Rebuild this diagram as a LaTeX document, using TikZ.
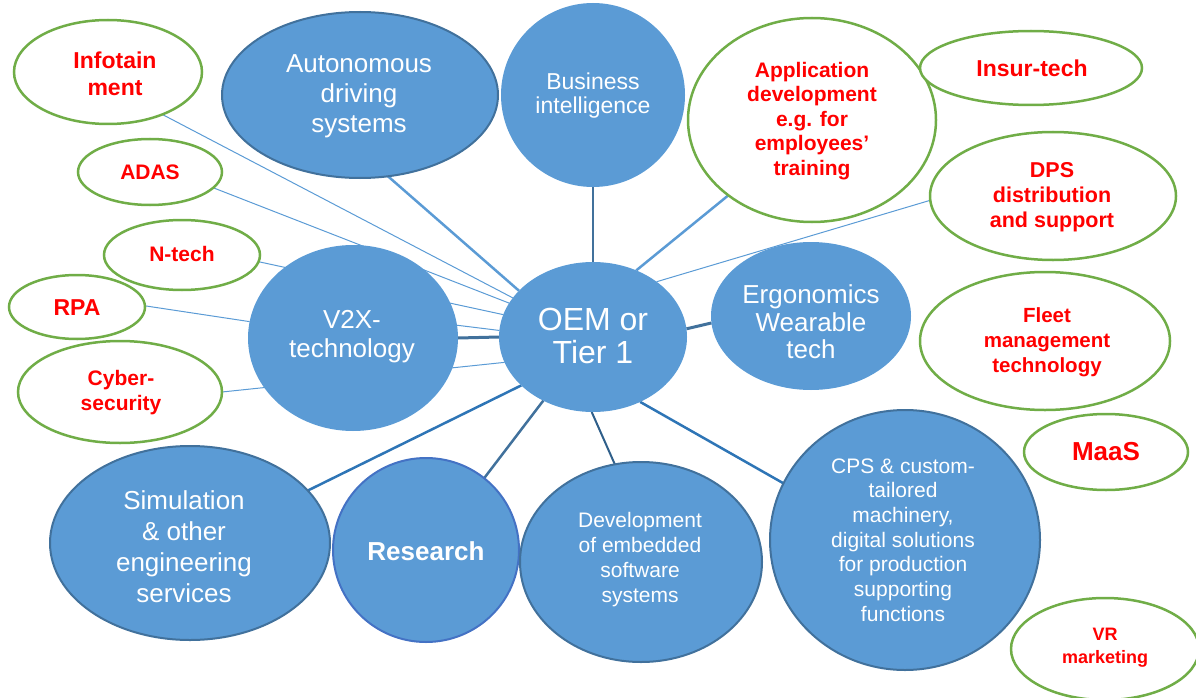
\documentclass[tikz,border=0pt]{standalone}
\usepackage{fontspec}
\setmainfont{Liberation Sans}
\usetikzlibrary{shapes.geometric,backgrounds}
\definecolor{bfill}{HTML}{5B9BD5}
\definecolor{bdark}{HTML}{41719C}
\definecolor{gline}{HTML}{70AD47}
\definecolor{rtext}{HTML}{FF0000}
\definecolor{lblue}{HTML}{5B9BD5}
\definecolor{mblue}{HTML}{2E75B6}
\definecolor{rblue}{HTML}{4472C4}
\definecolor{dblue}{HTML}{2F5F8A}
\begin{document}
\begin{tikzpicture}[x=1pt,y=-1pt,
  ell/.style={ellipse, inner sep=0pt, outer sep=0pt},
  sz/.style 2 args={minimum width=#1pt, minimum height=#2pt},
  bnode/.style={ell, fill=bfill},
  bbord/.style={ell, fill=bfill, draw=bdark, line width=2pt},
  gnode/.style={ell, fill=white, draw=gline, line width=2.5pt},
  wtxt/.style={text=white, align=center, inner sep=0pt},
  rtxt/.style={text=rtext, align=center, inner sep=0pt},
  fs/.style 2 args={font=\fontsize{#1}{#2}\selectfont},
  fb/.style 2 args={font=\fontsize{#1}{#2}\selectfont\bfseries},
  thinc/.style={draw=lblue, line width=1pt},
  medc/.style={line width=2.5pt},
  heavyc/.style={draw=bdark, line width=3pt}
]
\useasboundingbox (0,0) rectangle (1196,698);
\clip (0,0) rectangle (1196,698);

% green (red-text) ellipses
\node[gnode, sz={188}{104}] (info) at (108,72) {};
\node[gnode, sz={144}{66}] (adas) at (150,172) {};
\node[gnode, sz={156}{70}] (ntech) at (182,255) {};
\node[gnode, sz={136}{64}] (rpa) at (77,307) {};
\node[gnode, sz={204}{102}] (cyber) at (120,392) {};
\node[gnode, sz={248}{204}] (app) at (812,120) {};
\node[gnode, sz={222}{74}] (insur) at (1031,68) {};
\node[gnode, sz={246}{128}] (dps) at (1053,196) {};
\node[gnode, sz={250}{138}] (fleet) at (1045,341) {};
\node[gnode, sz={164}{76}] (maas) at (1106,452) {};
\node[gnode, sz={188}{102}] (vr) at (1105,649) {};

% blue ellipses
\node[bbord, sz={276}{166}] (auto) at (360,95) {};
\node[bnode, sz={184}{184}] (bi) at (593,95) {};
\node[bnode, sz={200}{148}] (ergo) at (811,316) {};
\node[bnode, sz={188}{150}] (oem) at (593,337) {};
\node[bnode, sz={210}{186}] (v2x) at (353,338) {};
\node[bbord, sz={280}{194}] (sim) at (190,543) {};
\node[ell, fill=bfill, draw=rblue, line width=2pt, sz={186}{184}] (res) at (426,550) {};
\node[bbord, sz={242}{200}] (dev) at (641,562) {};
\node[bbord, sz={270}{260}] (cps) at (905,540) {};

% texts
\node[rtxt, fb={23}{27}] (infoT) at (115,74) {Infotain\\ment};
\node[rtxt, fb={21}{25}] (adasT) at (150,172) {ADAS};
\node[rtxt, fb={21}{25}] (ntechT) at (182,254) {N-tech};
\node[rtxt, fb={23}{27}] (rpaT) at (77,308) {RPA};
\node[rtxt, fb={21}{25}] (cyberT) at (121,393) {Cyber-\\security};
\node[rtxt, fb={23}{27}] (insurT) at (1032,68) {Insur-tech};
\node[rtxt, fb={21}{24.5}] (appT) at (812,121) {Application\\development\\e.g. for\\employees’\\training};
\node[rtxt, fb={21.5}{25}] (dpsT) at (1052,197) {DPS\\distribution\\and support};
\node[rtxt, fb={20.5}{25}] (fleetT) at (1047,342) {Fleet\\management\\technology};
\node[rtxt, fb={26}{30}] (maasT) at (1106,452) {MaaS};
\node[rtxt, fb={18}{23}] (vrT) at (1105,648) {VR\\marketing};

\node[wtxt, fs={26}{30}] (autoT) at (359,96) {Autonomous\\driving\\systems};
\node[wtxt, fs={23}{24}] (biT) at (593,96) {Business\\intelligence};
\node[wtxt, fs={26}{27.5}] (ergoT) at (811,322) {Ergonomics\\Wearable\\tech};
\node[wtxt, fs={32}{33}] (oemT) at (593,336) {OEM or\\Tier 1};
\node[wtxt, fs={26}{29}] (v2xT) at (352,337) {V2X-\\technology};
\node[wtxt, fs={26}{31}] (simT) at (184,547) {Simulation\\\& other\\engineering\\services};
\node[wtxt, fb={26}{30}] (resT) at (426,551) {Research};
\node[wtxt, fs={21}{25}] (devT) at (640,560) {Development\\of embedded\\software\\systems};
\node[wtxt, fs={21}{24.7}] (cpsT) at (903,540) {CPS \& custom-\\tailored\\machinery,\\digital solutions\\for production\\supporting\\functions};

% connectors
\begin{scope}[on background layer]
\draw[thinc] (info.322.5) -- (oem.154);
\draw[thinc] (adas.346) -- (oem.158);
\draw[thinc] (ntech.355.5) -- (oem.166);
\draw[thinc] (rpa.1) -- (v2x.171);
\draw[thinc] (v2x.7) -- (oem.176);
\draw[heavyc] (v2x.east) -- (oem.west);
\draw[thinc] (cyber.0) -- (oem.196);
\draw[medc, draw=lblue] (auto.289) -- (oem.148.5);
\draw[medc, draw=bdark] (bi.south) -- (oem.north);
\draw[medc, draw=lblue] (app.222) -- (oem.57.5);
\draw[thinc] (dps.182.3) -- (oem.41);
\draw[heavyc] (ergo.184.5) -- (oem.5.4);
\draw[medc, draw=mblue] (sim.24) -- (oem.214.6);
\draw[medc, draw=bdark] (res.51.5) -- (oem.232.7);
\draw[line width=2pt, draw=dblue] (dev.105) -- (oem.269.3);
\draw[medc, draw=mblue] (cps.155.5) -- (oem.306);
\end{scope}
\end{tikzpicture}
\end{document}
